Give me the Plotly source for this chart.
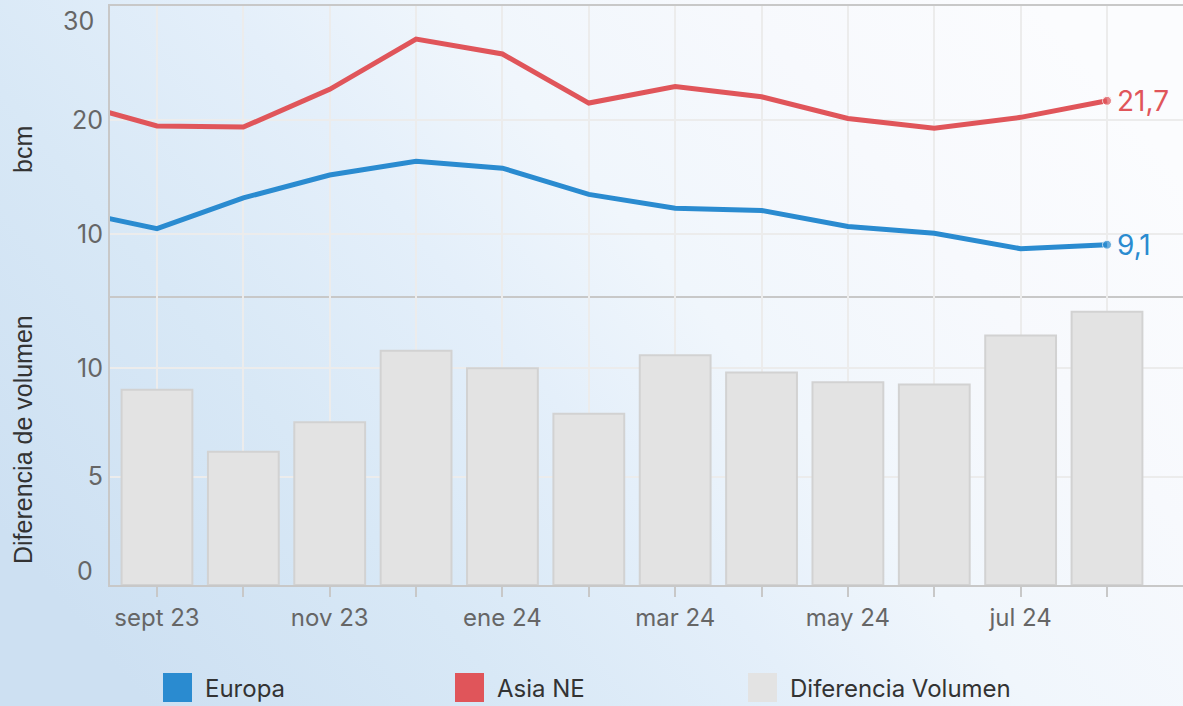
import base64
import plotly.graph_objects as go

# ---------------- data ----------------
months = ["ago 23", "sept 23", "oct 23", "nov 23", "dic 23", "ene 24", "feb 24",
          "mar 24", "abr 24", "may 24", "jun 24", "jul 24", "ago 24"]
europa = [12.1, 10.5, 13.2, 15.2, 16.4, 15.8, 13.5, 12.3, 12.1, 10.7, 10.1, 8.75, 9.1]
asia_ne = [21.6, 19.5, 19.4, 22.7, 27.1, 25.8, 21.5, 22.95, 22.05, 20.15, 19.3, 20.25, 21.7]
bar_months = months[1:]
diferencia = [9.0, 6.15, 7.5, 10.8, 10.0, 7.9, 10.6, 9.8, 9.35, 9.25, 11.5, 12.6]
tick_labels = ["sept 23", "", "nov 23", "", "ene 24", "", "mar 24", "", "may 24", "", "jul 24", ""]

BLUE = "#2a8bd0"
RED = "#e0555a"
BAR_FILL = "#e3e3e3"
BAR_LINE = "#d2d2d2"
GRID = "#ececec"
AXLINE = "#c8c8c8"
TICKFONT = "Inter"

# positions: index relative to "sept 23"
x_line = [i - 1 for i in range(len(months))]
x_bar = [months.index(m) - 1 for m in bar_months]

W, H = 1183, 706
ML, MR, MT, MB = 110, 0, 6, 121
PW, PH = W - ML - MR, H - MT - MB

def px_x(px):
    return (px - ML) / PW

def px_y(py):
    return (H - MB - py) / PH

fig = go.Figure()

fig.add_trace(go.Scatter(
    x=x_line, y=europa, mode="lines+markers", name="Europa",
    line=dict(color=BLUE, width=5),
    marker=dict(color=BLUE, size=[0] * (len(europa) - 1) + [9]),
    xaxis="x", yaxis="y", showlegend=False))
fig.add_trace(go.Scatter(
    x=x_line, y=asia_ne, mode="lines+markers", name="Asia NE",
    line=dict(color=RED, width=5),
    marker=dict(color=RED, size=[0] * (len(asia_ne) - 1) + [9]),
    xaxis="x", yaxis="y", showlegend=False))
fig.add_trace(go.Bar(
    x=x_bar, y=diferencia, name="Diferencia Volumen", width=0.82,
    marker=dict(color=BAR_FILL, line=dict(color=BAR_LINE, width=2)),
    xaxis="x2", yaxis="y2", showlegend=False))

xrange_ = [-0.544, 11.88]
common_x = dict(range=xrange_, tickvals=list(range(12)), showgrid=True,
                gridcolor=GRID, gridwidth=2, zeroline=False,
                linecolor=AXLINE, linewidth=2, showline=True)

# background gradient
svg = f'''<svg xmlns="http://www.w3.org/2000/svg" width="{W}" height="{H}" viewBox="0 0 {W} {H}" preserveAspectRatio="none">
<defs><linearGradient id="g" x1="0" y1="0.75" x2="1" y2="0.25">
<stop offset="0" stop-color="#cde0f2"/>
<stop offset="0.25" stop-color="#d8e8f6"/>
<stop offset="0.45" stop-color="#e4effa"/>
<stop offset="0.6" stop-color="#f0f6fc"/>
<stop offset="0.8" stop-color="#f7f9fd"/>
<stop offset="1" stop-color="#fbfcfe"/>
</linearGradient></defs>
<rect x="0" y="0" width="{W}" height="{H}" fill="url(#g)"/></svg>'''
src = "data:image/svg+xml;base64," + base64.b64encode(svg.encode()).decode()

annotations = []
# end labels
annotations.append(dict(x=x_line[-1], y=asia_ne[-1], xref="x", yref="y",
                        text=f"{asia_ne[-1]:.1f}".replace(".", ","), showarrow=False,
                        xanchor="left", xshift=8, font=dict(family=TICKFONT, size=28, color=RED)))
annotations.append(dict(x=x_line[-1], y=europa[-1], xref="x", yref="y",
                        text=f"{europa[-1]:.1f}".replace(".", ","), showarrow=False,
                        xanchor="left", xshift=8, font=dict(family=TICKFONT, size=28, color=BLUE)))
# edge tick labels
annotations.append(dict(x=0, y=30, xref="paper", yref="y", text="30", showarrow=False,
                        xanchor="right", yanchor="middle", xshift=-14, yshift=-15,
                        font=dict(family=TICKFONT, size=25, color="#666666")))
annotations.append(dict(x=0, y=0, xref="paper", yref="y2", text="0", showarrow=False,
                        xanchor="right", yanchor="middle", xshift=-15, yshift=14,
                        font=dict(family=TICKFONT, size=25, color="#666666")))
# axis titles
annotations.append(dict(x=px_x(23), y=px_y(150), xref="paper", yref="paper", text="bcm",
                        textangle=-90, showarrow=False, xanchor="center", yanchor="middle",
                        font=dict(family="Liberation Sans, Arial", size=25, color="#333333")))
annotations.append(dict(x=px_x(23), y=px_y(440), xref="paper", yref="paper",
                        text="Diferencia de volumen", textangle=-90, showarrow=False,
                        xanchor="center", yanchor="middle",
                        font=dict(family="Liberation Sans, Arial", size=25, color="#333333")))

# custom legend
shapes = []
legend_items = [("Europa", BLUE, 163), ("Asia NE", RED, 455), ("Diferencia Volumen", BAR_FILL, 748)]
for label, color, x0 in legend_items:
    shapes.append(dict(type="rect", xref="paper", yref="paper",
                       x0=px_x(x0), x1=px_x(x0 + 29), y0=px_y(702), y1=px_y(673),
                       fillcolor=color, line=dict(width=0), layer="above"))
    annotations.append(dict(x=px_x(x0 + 40), y=px_y(689), xref="paper", yref="paper",
                            text=label, showarrow=False, xanchor="left", yanchor="middle",
                            font=dict(family=TICKFONT, size=24, color="#333333")))

fig.update_layout(
    width=W, height=H,
    margin=dict(l=ML, r=MR, t=MT, b=MB),
    paper_bgcolor="white", plot_bgcolor="rgba(0,0,0,0)",
    showlegend=False, bargap=0.18,
    images=[dict(source=src, xref="paper", yref="paper",
                 x=-ML / PW, y=1 + MT / PH, sizex=W / PW, sizey=H / PH,
                 sizing="stretch", xanchor="left", yanchor="top", layer="below")],
    xaxis=dict(domain=[0, 1], anchor="y", showticklabels=False, ticks="",
               mirror=True, **common_x),
    xaxis2=dict(domain=[0, 1], anchor="y2", ticktext=tick_labels, ticks="outside",
                ticklen=10, tickwidth=2, tickcolor=AXLINE,
                tickfont=dict(family=TICKFONT, size=24, color="#666666"), **common_x),
    yaxis=dict(domain=[0.5, 1], anchor="x", range=[4.65, 30.0], tickvals=[10, 20, 30],
               ticktext=["10", "20", ""], showgrid=True, gridcolor=GRID, gridwidth=2,
               zeroline=False, showline=True, linecolor=AXLINE, linewidth=2,
               tickfont=dict(family=TICKFONT, size=25, color="#666666"), ticks=""),
    yaxis2=dict(domain=[0, 0.5], anchor="x2", range=[0, 13.35], tickvals=[0, 5, 10],
                ticktext=["", "5", "10"], showgrid=True, gridcolor=GRID, gridwidth=2,
                zeroline=False, showline=True, linecolor=AXLINE, linewidth=2,
                tickfont=dict(family=TICKFONT, size=25, color="#666666"), ticks=""),
    annotations=annotations, shapes=shapes,
)

fig.write_html(
    "out.html",
    config={"displayModeBar": False},
    post_script="document.body.style.margin='0';document.body.style.padding='0';"
                "document.body.style.overflow='hidden';",
)
